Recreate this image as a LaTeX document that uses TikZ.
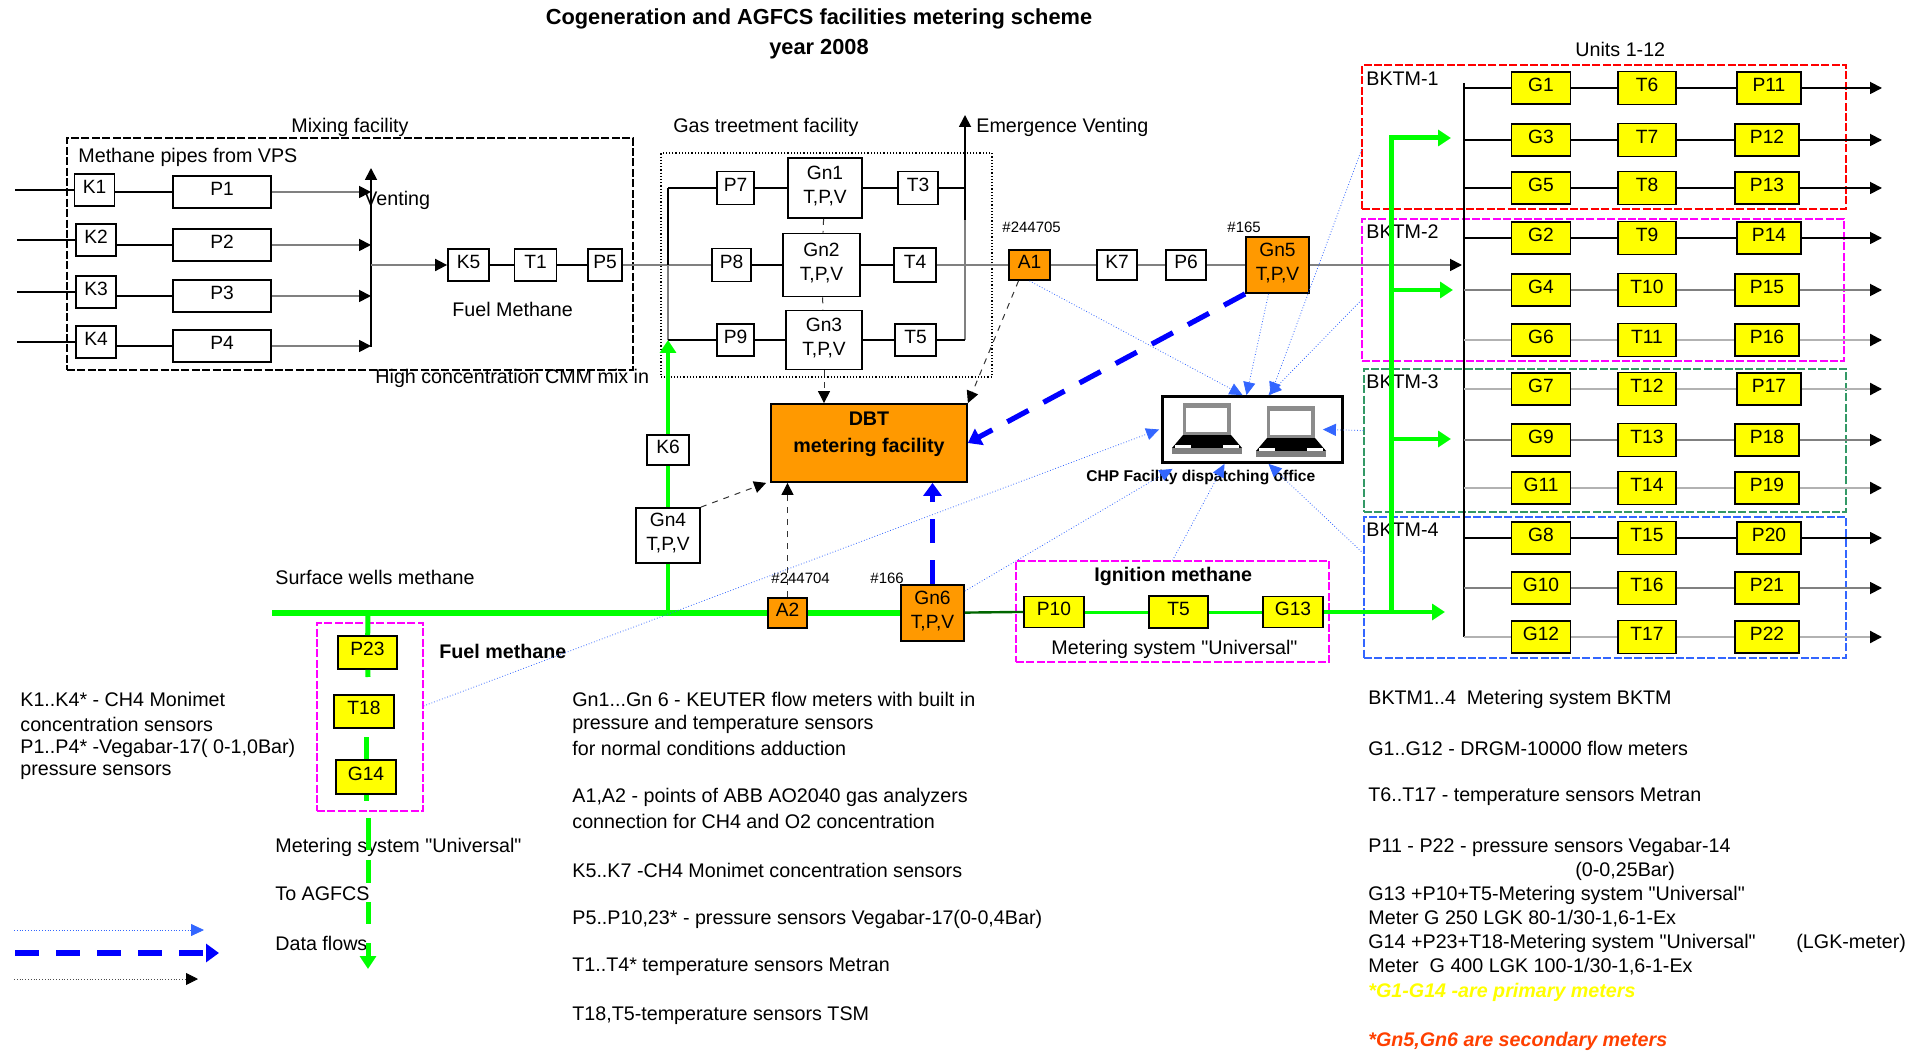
\documentclass[tikz,border=0pt]{standalone}
\usepackage{xcolor}
\usepackage{fontspec}
\setmainfont{Liberation Sans}[Ligatures=TeXOff]
\usetikzlibrary{arrows.meta,
	calc}
\definecolor{gas}{HTML}{00FF00}
\definecolor{meter}{HTML}{FFFF00}
\definecolor{sec}{HTML}{FF9900}
\definecolor{link}{HTML}{3366FF}
\definecolor{dkgreen}{HTML}{339966}
\definecolor{pinkbox}{HTML}{FF00FF}
\definecolor{redbox}{HTML}{FF0000}
\tikzstyle{lab}=[inner sep=0, font=\fontsize{9.85}{12}\selectfont]
\tikzstyle{txt}=[lab, anchor=west]
\tikzstyle{wb}=[draw, line width=0.9pt, fill=white, inner sep=0, font=\fontsize{9.6}{12}\selectfont, align=center, text depth=3.5pt]
\tikzstyle{yb}=[wb, fill=meter]
\tikzstyle{ob}=[wb, fill=sec]
\tikzstyle{gm}=[yb, minimum width=29.5pt, minimum height=16pt]
\tikzstyle{tm}=[yb, minimum width=29pt, minimum height=16.5pt]
\tikzstyle{pm}=[yb, minimum width=32pt, minimum height=16pt]
\tikzstyle{fr}=[draw, line width=0.6pt, dash pattern=on 4pt off 1.2pt, inner sep=0]
\tikzstyle{pipe}=[line width=0.9pt, -{Triangle[length=6pt,width=6pt,color=black,fill=black]}]
\tikzstyle{plain}=[line width=0.9pt]
\tikzstyle{pipeg}=[pipe, draw=black!50]
\tikzstyle{plaing}=[plain, draw=black!50]
\tikzstyle{pipel}=[pipe, draw=black!30, line width=1.1pt]
\tikzstyle{greenl}=[draw=gas, line width=2pt]
\tikzstyle{greena}=[greenl, -{Triangle[length=6.5pt,width=8pt]}]
\tikzstyle{flow}=[draw=link, line width=0.4pt, densely dotted, -{Triangle[length=6.5pt,width=6pt]}]
\tikzstyle{hflow}=[draw=blue, line width=2.6pt, dash pattern=on 12pt off 8.5pt, -{Triangle[length=6.5pt,width=9pt]}]
\tikzstyle{bflow}=[draw=black!80, line width=0.5pt, dashed, -{Triangle[length=6pt,width=6pt,color=black,fill=black]}]
\tikzset{laptop/.pic={
	\fill[black!45] (0,0) rectangle (48,32);
	\fill[white] (3,5) rectangle (44,29);
	\fill[black] (0,32) -- (48,32) -- (59,45) -- (-11,45) -- cycle;
	\fill[white] (-8,42) rectangle (8,45);
	\fill[white] (40,42) rectangle (56,45);
	\fill[black!50] (-11,45) rectangle (59,51);
}}

\begin{document}
\begin{tikzpicture}[x=0.5pt, y=-0.5pt]
	\useasboundingbox (0,0) rectangle (1926,1053);

	\node[lab, font=\fontsize{10.9}{12}\bfseries\selectfont] (title1) at (819,19) {Cogeneration and AGFCS facilities metering scheme};
	\node[lab, font=\fontsize{10.9}{12}\bfseries\selectfont] (title2) at (819,49) {year 2008};

	\node[fr, draw=black, minimum width=283pt, minimum height=116pt] (mixbox) at (350,254) {};
	\node[fr, draw=black, densely dotted, minimum width=165.5pt, minimum height=112pt] (gasbox) at (826.5,265) {};
	\node[fr, draw=redbox, minimum width=242pt, minimum height=72pt] (BK1) at (1604,137) {};
	\node[fr, draw=pinkbox, minimum width=241pt, minimum height=71pt] (BK2) at (1603,290) {};
	\node[fr, draw=dkgreen, minimum width=241pt, minimum height=71.5pt] (BK3) at (1605,440.5) {};
	\node[fr, draw=link, minimum width=241pt, minimum height=70.5pt] (BK4) at (1605,587.5) {};
	\node[fr, draw=pinkbox, minimum width=156.5pt, minimum height=50.5pt] (ignbox) at (1172.5,611.5) {};
	\node[fr, draw=pinkbox, minimum width=53pt, minimum height=94pt] (fuelbox) at (370,717) {};

	\node[txt] (mixlab) at (291,127) {Mixing facility};
	\node[txt] (vpslab) at (78,157) {Methane pipes from VPS};
	\node[txt] (ventlab) at (364,200) {Venting};
	\node[txt] (fuellab) at (452,309) {Fuel Methane};
	\node[txt] (cmmlab) at (375,378) {High concentration CMM mix in};
	\node[txt] (treatlab) at (673,127) {Gas treetment facility};
	\node[txt] (emerlab) at (976,127) {Emergence Venting};
	\node[txt] (unitslab) at (1575,49) {Units 1-12};
	\node[txt] (bk1lab) at (1366,79) {BKTM-1};
	\node[txt] (bk2lab) at (1366,232) {BKTM-2};
	\node[txt] (bk3lab) at (1366,382) {BKTM-3};
	\node[txt] (bk4lab) at (1366,530) {BKTM-4};
	\node[txt, font=\fontsize{7.5}{9}\selectfont] (n1) at (1002,227) {\#244705};
	\node[txt, font=\fontsize{7.5}{9}\selectfont] (n2) at (1227,227) {\#165};
	\node[txt, font=\fontsize{7.5}{9}\selectfont] (n3) at (771,578) {\#244704};
	\node[txt, font=\fontsize{7.5}{9}\selectfont] (n4) at (870,578) {\#166};
	\node[txt] (wellslab) at (275,577) {Surface wells methane};
	\node[txt, font=\fontsize{9.85}{12}\bfseries\selectfont] (ignlab) at (1094,576) {Ignition methane};
	\node[txt] (unilab) at (1051,649) {Metering system "Universal"};
	\node[txt, font=\fontsize{9.85}{12}\bfseries\selectfont] (fuelmlab) at (439,651) {Fuel methane};
	\node[txt] (uni2lab) at (275,847) {Metering system "Universal"};
	\node[txt] (agfcslab) at (275,894) {To AGFCS};
	\node[txt] (flowslab) at (275,943) {Data flows};

	\node[wb, minimum width=20pt, minimum height=16pt] (K1) at (94.5,190) {K1};
	\node[wb, minimum width=20pt, minimum height=16pt] (K2) at (96,240) {K2};
	\node[wb, minimum width=20pt, minimum height=16pt] (K3) at (96,292) {K3};
	\node[wb, minimum width=20pt, minimum height=16pt] (K4) at (96,342) {K4};
	\node[wb, minimum width=49pt, minimum height=16pt] (P1) at (222,192) {P1};
	\node[wb, minimum width=49pt, minimum height=16pt] (P2) at (222,245) {P2};
	\node[wb, minimum width=49pt, minimum height=16pt] (P3) at (222,296) {P3};
	\node[wb, minimum width=49pt, minimum height=16pt] (P4) at (222,346) {P4};
	\node[wb, minimum width=20.5pt, minimum height=16pt] (K5) at (468.5,265) {K5};
	\node[wb, minimum width=21pt, minimum height=16pt] (T1) at (535.5,265) {T1};
	\node[wb, minimum width=17pt, minimum height=16pt] (P5) at (605,265) {P5};

	\node[wb, minimum width=18.5pt, minimum height=16.5pt] (P7) at (735.5,188) {P7};
	\node[wb, minimum width=37pt, minimum height=30pt] (Gn1) at (825,188) {Gn1\\T,P,V};
	\node[wb, minimum width=20pt, minimum height=16.5pt] (T3) at (918,188) {T3};
	\node[wb, minimum width=19.5pt, minimum height=16.5pt] (P8) at (731.5,265) {P8};
	\node[wb, minimum width=38.5pt, minimum height=31.5pt] (Gn2) at (821.5,265) {Gn2\\T,P,V};
	\node[wb, minimum width=21pt, minimum height=17pt] (T4) at (915,265) {T4};
	\node[wb, minimum width=18.5pt, minimum height=16pt] (P9) at (735.5,340) {P9};
	\node[wb, minimum width=38pt, minimum height=29.5pt] (Gn3) at (824,340) {Gn3\\T,P,V};
	\node[wb, minimum width=20.5pt, minimum height=16pt] (T5a) at (915.5,340) {T5};

	\node[ob, minimum width=20.5pt, minimum height=15pt] (A1) at (1029.5,265) {A1};
	\node[wb, minimum width=20pt, minimum height=15pt] (K7) at (1117,265) {K7};
	\node[wb, minimum width=20pt, minimum height=15pt] (P6) at (1186,265) {P6};
	\node[ob, minimum width=31.5pt, minimum height=28pt] (Gn5) at (1277.5,265) {Gn5\\T,P,V};
	\node[ob, minimum width=98pt, minimum height=39pt, text depth=11pt, font=\fontsize{9.85}{13.5}\bfseries\selectfont] (DBT) at (869,443) {DBT\\metering facility};
	\node[wb, minimum width=21pt, minimum height=15pt] (K6) at (668,450) {K6};
	\node[wb, minimum width=32pt, minimum height=27.5pt] (Gn4) at (668,535.5) {Gn4\\T,P,V};
	\node[ob, minimum width=19.5pt, minimum height=15pt] (A2) at (787.5,613) {A2};
	\node[ob, minimum width=31.5pt, minimum height=28pt] (Gn6) at (932.5,613) {Gn6\\T,P,V};
	\node[yb, minimum width=30pt, minimum height=15.5pt] (P10) at (1054,612) {P10};
	\node[yb, minimum width=29.5pt, minimum height=16pt] (T5) at (1178.5,612) {T5};
	\node[yb, minimum width=30pt, minimum height=15.5pt] (G13) at (1293,612) {G13};
	\node[yb, minimum width=29.5pt, minimum height=16.5pt] (P23) at (367.5,652.5) {P23};
	\node[yb, minimum width=30pt, minimum height=16.5pt] (T18) at (364,711.5) {T18};
	\node[yb, minimum width=30pt, minimum height=17pt] (G14) at (366,777) {G14};

	\node[draw, line width=1.4pt, fill=white, minimum width=90pt, minimum height=33pt, inner sep=0] (office) at (1252.5,429.5) {};
	\node[txt, font=\fontsize{7.8}{10}\bfseries\selectfont] (officelab) at (1086,478) {CHP Facility dispatching office};
	\pic (lap1) at (1183,403) {laptop};
	\pic (lap2) at (1267,406) {laptop};

	\node[gm] (G1) at (1541,88) {G1}; \node[tm] (T6) at (1647,88) {T6}; \node[pm] (P11) at (1769,88) {P11};
	\node[gm] (G3) at (1541,140) {G3}; \node[tm] (T7) at (1647,140) {T7}; \node[pm] (P12) at (1767,140) {P12};
	\node[gm] (G5) at (1541,188) {G5}; \node[tm] (T8) at (1647,188) {T8}; \node[pm] (P13) at (1767,188) {P13};
	\node[gm] (G2) at (1541,238) {G2}; \node[tm] (T9) at (1647,238) {T9}; \node[pm] (P14) at (1769,238) {P14};
	\node[gm] (G4) at (1541,290) {G4}; \node[tm] (T10) at (1647,290) {T10}; \node[pm] (P15) at (1767,290) {P15};
	\node[gm] (G6) at (1541,340) {G6}; \node[tm] (T11) at (1647,340) {T11}; \node[pm] (P16) at (1767,340) {P16};
	\node[gm] (G7) at (1541,389) {G7}; \node[tm] (T12) at (1647,389) {T12}; \node[pm] (P17) at (1769,389) {P17};
	\node[gm] (G9) at (1541,440) {G9}; \node[tm] (T13) at (1647,440) {T13}; \node[pm] (P18) at (1767,440) {P18};
	\node[gm] (G11) at (1541,488) {G11}; \node[tm] (T14) at (1647,488) {T14}; \node[pm] (P19) at (1767,488) {P19};
	\node[gm] (G8) at (1541,538) {G8}; \node[tm] (T15) at (1647,538) {T15}; \node[pm] (P20) at (1769,538) {P20};
	\node[gm] (G10) at (1541,588) {G10}; \node[tm] (T16) at (1647,588) {T16}; \node[pm] (P21) at (1767,588) {P21};
	\node[gm] (G12) at (1541,637) {G12}; \node[tm] (T17) at (1647,637) {T17}; \node[pm] (P22) at (1767,637) {P22};

	\coordinate (bus) at (1464,83);
	\coordinate (busend) at (1464,637);
	\coordinate (out) at (1882,88);
	\draw[plain] (bus) -- (busend);
	\draw[pipe] (bus |- G1) -- (G1) -- (T6) -- (P11) -- (out |- P11);
	\draw[pipe] (bus |- G3) -- (G3) -- (T7) -- (P12) -- (out |- P12);
	\draw[pipe] (bus |- G5) -- (G5) -- (T8) -- (P13) -- (out |- P13);
	\draw[pipe] (bus |- G2) -- (G2) -- (T9) -- (P14) -- (out |- P14);
	\draw[pipeg] (bus |- G4) -- (G4) -- (T10) -- (P15) -- (out |- P15);
	\draw[pipel] (bus |- G6) -- (G6) -- (T11) -- (P16) -- (out |- P16);
	\draw[pipel] (bus |- G7) -- (G7) -- (T12) -- (P17) -- (out |- P17);
	\draw[pipeg] (bus |- G9) -- (G9) -- (T13) -- (P18) -- (out |- P18);
	\draw[pipel] (bus |- G11) -- (G11) -- (T14) -- (P19) -- (out |- P19);
	\draw[pipe] (bus |- G8) -- (G8) -- (T15) -- (P20) -- (out |- P20);
	\draw[pipeg] (bus |- G10) -- (G10) -- (T16) -- (P21) -- (out |- P21);
	\draw[pipel] (bus |- G12) -- (G12) -- (T17) -- (P22) -- (out |- P22);

	\coordinate (in1) at (15,190);
	\coordinate (in2) at (17,240);
	\coordinate (in3) at (17,292);
	\coordinate (in4) at (17,342);
	\coordinate (trunk) at (371,347);
	\coordinate (trunktop) at (371,168);
	\draw[plain] (in1) -- (K1);
	\draw[plain] (in2) -- (K2);
	\draw[plain] (in3) -- (K3);
	\draw[plain] (in4) -- (K4);
	\draw[plain] (P1.west -| K1.east) -- (P1);
	\draw[plain] (P2.west -| K2.east) -- (P2);
	\draw[plain] (P3.west -| K3.east) -- (P3);
	\draw[plain] (P4.west -| K4.east) -- (P4);
	\draw[pipeg] (P1) -- (trunk |- P1);
	\draw[pipeg] (P2) -- (trunk |- P2);
	\draw[pipeg] (P3) -- (trunk |- P3);
	\draw[pipeg] (P4) -- (trunk |- P4);
	\draw[pipe] (trunk) -- (trunktop);
	\draw[pipeg] (trunk |- K5) -- (K5);
	\draw[plain] (K5) -- (T1) -- (P5);
	\draw[plaing] (P5) -- (P8);

	\coordinate (gasl) at (668,188);
	\coordinate (gasb) at (668,340);
	\coordinate (ventb) at (965,340);
	\coordinate (ventm) at (965,220);
	\coordinate (venttop) at (965,115);
	\draw[plain] (gasl) -- (gasl |- P8);
	\draw[plaing] (gasl |- P8) -- (gasb);
	\draw[plaing] (ventb) -- (ventm);
	\draw[pipe] (ventm) -- (venttop);
	\draw[plain] (gasl) -- (P7) -- (Gn1) -- (T3) -- (ventm |- T3);
	\draw[plain] (P8) -- (Gn2) -- (T4);
	\draw[plain] (gasb) -- (P9) -- (Gn3) -- (T5a) -- (ventb);
	\draw[plaing] (T4) -- (A1) -- (K7) -- (P6) -- (Gn5);
	\coordinate (bustip) at (1462,265);
	\draw[pipeg] (Gn5) -- (bustip);

	\coordinate (wells) at (272,613);
	\coordinate (fuelin) at (368,613);
	\coordinate (ignin) at (1016,612);
	\draw[greenl, line width=1.8pt] (Gn4) -- (K6);
	\draw[greena, line width=1.8pt] (K6) -- (gasb);
	\draw[greenl] (Gn4) -- (Gn4 |- wells);
	\draw[greenl, line width=3.2pt] (wells) -- (A2) -- (Gn6);
	\draw[plain, draw=green!40!black, line width=1.2pt] (Gn6) -- (ignin) -- (P10);
	\draw[greenl, line width=1.5pt] (P10) -- (T5) -- (G13);

	\coordinate (jct) at (1391,612);
	\coordinate (gtop) at (1391,138);
	\coordinate (g1) at (1451,138);
	\coordinate (g2a) at (1391,290);
	\coordinate (g2) at (1453,290);
	\coordinate (g3a) at (1391,439);
	\coordinate (g3) at (1451,439);
	\coordinate (g4) at (1445,612);
	\draw[greena, line width=1.7pt] (G13) -- (g4);
	\draw[greena, line width=2.5pt] (jct) -- (gtop) -- (g1);
	\draw[greena] (g2a) -- (g2);
	\draw[greena] (g3a) -- (g3);

	\coordinate (f1) at (368,677);
	\coordinate (f2) at (368,737);
	\coordinate (f3) at (368,801);
	\coordinate (f4) at (368,818);
	\coordinate (f5) at (368,850);
	\coordinate (f6) at (368,860);
	\coordinate (f7) at (368,883);
	\coordinate (f8) at (368,902);
	\coordinate (f9) at (368,924);
	\coordinate (f10) at (368,943);
	\coordinate (f11) at (368,969);
	\draw[greenl, line width=2.5pt] (fuelin) -- (P23);
	\draw[greenl, line width=2.5pt] (P23) -- (f1);
	\draw[greenl, line width=2.5pt] (f2 -| G14) -- (G14);
	\draw[greenl, line width=2.5pt] (G14) -- (f3 -| G14);
	\draw[greenl, line width=2.5pt] (f4) -- (f5);
	\draw[greenl, line width=2.5pt] (f6) -- (f7);
	\draw[greenl, line width=2.5pt] (f8) -- (f9);
	\draw[greena, line width=2.5pt] (f10) -- (f11);

	\draw[bflow] (Gn3) -- (Gn3.south |- DBT.north);
	\draw[bflow, -] (Gn1) -- (Gn2);
	\draw[bflow, -] (Gn2) -- (Gn3);
	\draw[bflow] ([xshift=-5.5pt]A1.south) -- (DBT.north east);
	\draw[bflow] (Gn4.north east) -- ([xshift=-2pt]DBT.south west);
	\draw[bflow] (A2.north) -- (A2.north |- DBT.south);

	\draw[hflow] (Gn5.south west) -- (DBT.east);
	\draw[hflow] (Gn6.north) -- (Gn6.north |- DBT.south);

	\draw[flow] (A1.south) -- ([xshift=-5pt]office.north);
	\draw[flow] ([xshift=-4.5pt]Gn5.south) -- ([xshift=-3pt]office.north);
	\draw[flow] ([yshift=-6.5pt]BK1.west) -- ([xshift=9pt]office.north);
	\draw[flow] ([yshift=-5pt]BK2.west) -- ([xshift=8pt]office.north);
	\draw[flow] ([yshift=5pt]BK3.west) -- ([xshift=-10.5pt]office.east);
	\draw[flow] ([yshift=17pt]BK4.west) -- ([xshift=8pt]office.south);
	\draw[flow] (ignbox.north) -- ([xshift=-14pt]office.south);
	\draw[flow] ([yshift=11pt]Gn6.east) -- ([xshift=-40pt, yshift=-2.5pt]office.south);
	\draw[flow] ([yshift=5.5pt]fuelbox.east) -- ([xshift=-1pt]office.west);

	\coordinate (leg1a) at (14,930);
	\coordinate (leg1b) at (204,930);
	\coordinate (leg2a) at (15,953);
	\coordinate (leg2b) at (219,953);
	\coordinate (leg3a) at (14,979);
	\coordinate (leg3b) at (198,979);
	\draw[flow] (leg1a) -- (leg1b);
	\draw[hflow] (leg2a) -- (leg2b);
	\draw[draw=black!70, line width=0.4pt, densely dotted, -{Triangle[length=6pt,width=6pt,color=black,fill=black]}] (leg3a) -- (leg3b);

	\node[txt] (k1) at (20,699) {K1..K4* - CH4 Monimet};
	\node[txt] (k2) at (20,724) {concentration sensors};
	\node[txt] (k3) at (20,748) {P1..P4* -Vegabar-17( 0-1,0Bar)};
	\node[txt] (k4) at (20,772) {pressure sensors};

	\node[txt] (m1) at (572,699) {Gn1...Gn 6 - KEUTER flow meters with built in};
	\node[txt] (m2) at (572,724) {pressure and temperature sensors};
	\node[txt] (m3) at (572,748) {for normal conditions adduction};
	\node[txt] (m4) at (572,797) {A1,A2 - points of ABB AO2040 gas analyzers};
	\node[txt] (m5) at (572,821) {connection for CH4 and O2 concentration};
	\node[txt] (m6) at (572,870) {K5..K7 -CH4 Monimet concentration sensors};
	\node[txt] (m7) at (572,919) {P5..P10,23* - pressure sensors Vegabar-17(0-0,4Bar)};
	\node[txt] (m8) at (572,967) {T1..T4* temperature sensors Metran};
	\node[txt] (m9) at (572,1016) {T18,T5-temperature sensors TSM};

	\node[txt] (r1) at (1368,699) {BKTM1..4\ \ Metering system BKTM};
	\node[txt] (r2) at (1368,748) {G1..G12 - DRGM-10000 flow meters};
	\node[txt] (r3) at (1368,797) {T6..T17 - temperature sensors Metran};
	\node[txt] (r4) at (1368,847) {P11 - P22 - pressure sensors Vegabar-14};
	\node[txt] (r5) at (1575,871) {(0-0,25Bar)};
	\node[txt] (r6) at (1368,895) {G13 +P10+T5-Metering system "Universal"};
	\node[txt] (r7) at (1368,919) {Meter G 250 LGK 80-1/30-1,6-1-Ex};
	\node[txt] (r8) at (1368,943) {G14 +P23+T18-Metering system "Universal"};
	\node[txt] (r9) at (1796,943) {(LGK-meter)};
	\node[txt] (r10) at (1368,967) {Meter\ \ G 400 LGK 100-1/30-1,6-1-Ex};
	\node[txt, text=meter, font=\fontsize{9.85}{12}\bfseries\itshape\selectfont] (r11) at (1368,992) {*G1-G14 -are primary meters};
	\node[txt, text=orange!50!red, font=\fontsize{9.85}{12}\bfseries\itshape\selectfont] (r12) at (1368,1041) {*Gn5,Gn6 are secondary meters};
\end{tikzpicture}
\end{document}
